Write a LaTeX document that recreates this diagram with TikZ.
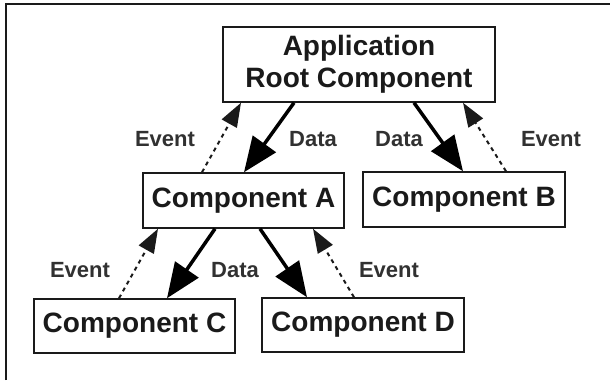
\documentclass[tikz,border=0pt]{standalone}
\usepackage{fontspec}
\setmainfont{Liberation Sans}
\usetikzlibrary{arrows.meta}
\definecolor{ink}{HTML}{1A1A1A}

\begin{document}
\begin{tikzpicture}[x=1pt,y=-1pt]
		\tikzstyle{comp}=[draw=ink,line width=1.5pt,inner sep=0pt,minimum width=201pt,minimum height=55pt,font=\fontsize{28}{32}\selectfont\bfseries,text=ink]
		\tikzstyle{lbl}=[font=\fontsize{22}{24}\selectfont\bfseries,text=ink!90]
		\tikzstyle{data}=[draw=black,line width=3.5pt,-{Triangle[length=35pt,width=28pt]}]
		\tikzstyle{event}=[draw=ink,line width=2pt,dash pattern=on 4pt off 4pt,-{Triangle[length=24pt,width=17pt]}]
		\useasboundingbox (0,0) rectangle (610,380);
		\coordinate (fl) at (6,380);
		\coordinate (fc) at (6,4);
		\coordinate (fr) at (610,4);
		\draw[line width=2pt,ink] (fl) -- (fc) -- (fr);

		\node (root) at (359,64.5) [comp,minimum width=272pt,minimum height=75pt,align=center] {Application\\Root Component};
		\node (ca) at (243.5,200.5) [comp] {Component A};
		\node (cb) at (464,199.5) [comp,minimum width=202pt] {Component B};
		\node (cc) at (134.5,326) [comp,minimum height=54pt] {Component C};
		\node (cd) at (363,325) [comp,minimum width=202pt,minimum height=54pt] {Component D};

		% root <-> A, B
		\path ([xshift=-65pt]root.south) edge[data] ([xshift=0.5pt]ca.north);
		\path ([xshift=-41.5pt]ca.north) edge[event] ([xshift=-118pt]root.south);
		\path ([xshift=55pt]root.south) edge[data] ([xshift=-1pt]cb.north);
		\path ([xshift=42pt]cb.north) edge[event] ([xshift=104pt]root.south);

		% A <-> C, D
		\path ([xshift=-28.5pt]ca.south) edge[data] ([xshift=32.5pt]cc.north);
		\path ([xshift=-15.5pt]cc.north) edge[event] ([xshift=-85.5pt]ca.south);
		\path ([xshift=16.5pt]ca.south) edge[data] ([xshift=-56pt]cd.north);
		\path ([xshift=-9pt]cd.north) edge[event] ([xshift=69.5pt]ca.south);

		\node (ev1) at (165,139) [lbl] {Event};
		\node (da1) at (313,139) [lbl] {Data};
		\node (da2) at (399,139) [lbl] {Data};
		\node (ev2) at (551,139) [lbl] {Event};
		\node (ev3) at (80,270) [lbl] {Event};
		\node (da3) at (235,270) [lbl] {Data};
		\node (ev4) at (389,270) [lbl] {Event};
	\end{tikzpicture}
\end{document}
